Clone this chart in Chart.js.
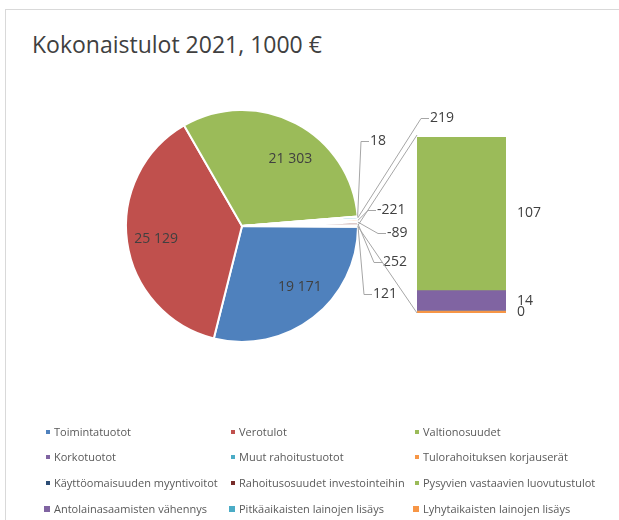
<!DOCTYPE html>
<html>
<head>
<meta charset="utf-8">
<title>Kokonaistulot 2021</title>
<script src="https://cdn.jsdelivr.net/npm/chart.js@4.4.1/dist/chart.umd.min.js"></script>
<style>
  html, body { margin: 0; padding: 0; background: #fff; }
  #wrap { position: relative; width: 619px; height: 520px; overflow: hidden; font-family: 'Open Sans', sans-serif; }
  #frame { position: absolute; left: 5px; top: 9px; width: 800px; height: 800px; border-left: 1px solid #d9d9d9; border-top: 1px solid #d9d9d9; }
  #title { position: absolute; left: 32px; top: 28px; font-size: 23px; color: #404040; white-space: nowrap; }
  canvas.layer { position: absolute; left: 0; top: 0; }
  .item { position: absolute; font-size: 11px; line-height: 14px; color: #595959; white-space: nowrap; }
  .item i { position: absolute; display: block; }
</style>
</head>
<body>
<div id="wrap">
  <div id="frame"></div>
  <div id="title">Kokonaistulot 2021, 1000 €</div>
  <canvas id="pieCanvas" class="layer" width="619" height="520"></canvas>
  <canvas id="barCanvas" class="layer" width="619" height="520"></canvas>
  <div id="legend"></div>
</div>
<script>
// Main pie: three big items + small items, the rest goes to the secondary bar
const pieLabels = ['Toimintatuotot', 'Verotulot', 'Valtionosuudet', 'Korkotuotot', 'Muut rahoitustuotot',
  'Tulorahoituksen korjauserät', 'Käyttöomaisuuden myyntivoitot', 'Rahoitusosuudet investointeihin'];
const pieValues = [19171, 25129, 21303, 18, 219, -221, -89, 252];

// Secondary (stacked bar) items
const barLabels = ['Pysyvien vastaavien luovutustulot', 'Antolainasaamisten vähennys',
  'Pitkäaikaisten lainojen lisäys', 'Lyhytaikaisten lainojen lisäys'];
const barValues = [107, 14, 0, 0];

const pieColors = ['#4f81bd', '#c0504d', '#9bbb59', '#8064a2', '#4bacc6', '#f79646', '#2c4d75', '#772c2a'];
const barColors = ['#9bbb59', '#8064a2', '#4bacc6', '#f79646'];
const otherColor = '#dbe3ef';

// nudges for the three big labels, and anchors (left x, middle y) for the small ones
const bigLabelShift = [[6, -6], [-2, 1], [9, 8]];
const smallLabelPos = [[370, 141], [430, 118], [377, 210], [387, 233], [383, 262], [373, 294]];

const otherSum = barValues.reduce((a, b) => a + b, 0);
const allPie = pieValues.concat([otherSum]);
const pieTotal = allPie.reduce((a, b) => a + Math.abs(b), 0);

function fmt(v) {
  const s = Math.abs(v).toString().replace(/\B(?=(\d{3})+(?!\d))/g, ' ');
  return (v < 0 ? '-' : '') + s;
}

const labelFont = '14px "Open Sans", sans-serif';
const labelColor = '#404040';
const lineColor = '#a6a6a6';

const pieLabelsPlugin = {
  id: 'pieLabels',
  afterDatasetsDraw(chart) {
    const ctx = chart.ctx;
    const meta = chart.getDatasetMeta(0);
    const values = chart.data.datasets[0].data;
    ctx.save();
    ctx.font = labelFont;
    ctx.fillStyle = labelColor;
    ctx.textBaseline = 'middle';
    meta.data.forEach((arc, i) => {
      const p = arc.getProps(['x', 'y', 'startAngle', 'endAngle', 'outerRadius']);
      const mid = (p.startAngle + p.endAngle) / 2;
      if (i < 3) {
        const d = p.outerRadius * 0.73;
        ctx.textAlign = 'center';
        ctx.fillText(fmt(values[i]), p.x + Math.cos(mid) * d + bigLabelShift[i][0],
          p.y + Math.sin(mid) * d + bigLabelShift[i][1]);
        return;
      }
      const [lx, ly] = smallLabelPos[i - 3];
      const sx = p.x + Math.cos(mid) * p.outerRadius;
      const sy = p.y + Math.sin(mid) * p.outerRadius;
      ctx.strokeStyle = lineColor;
      ctx.lineWidth = 1;
      ctx.beginPath();
      ctx.moveTo(sx, sy);
      ctx.lineTo(lx - 9, ly + 0.5);
      ctx.lineTo(lx - 1, ly + 0.5);
      ctx.stroke();
      ctx.textAlign = 'left';
      ctx.fillText(fmt(values[i]), lx, ly);
    });
    ctx.restore();
  }
};

const pieChart = new Chart(document.getElementById('pieCanvas'), {
  type: 'pie',
  data: {
    labels: pieLabels.concat(['Muu']),
    datasets: [{
      data: allPie,
      backgroundColor: pieColors.concat([otherColor]),
      borderColor: '#ffffff',
      borderWidth: 2
    }]
  },
  options: {
    responsive: false,
    animation: false,
    radius: 116,
    // keep the aggregated slice centred on 3 o'clock
    rotation: 90 + (otherSum / pieTotal) * 180,
    layout: { padding: { left: 126, right: 261, top: 110, bottom: 178 } },
    plugins: { legend: { display: false }, tooltip: { enabled: false } }
  },
  plugins: [pieLabelsPlugin]
});

const barLabelsPlugin = {
  id: 'barLabels',
  afterDatasetsDraw(chart) {
    const ctx = chart.ctx;
    const drawn = [];
    ctx.save();
    ctx.font = labelFont;
    ctx.fillStyle = labelColor;
    ctx.textBaseline = 'middle';
    ctx.textAlign = 'left';
    chart.data.datasets.forEach((ds, i) => {
      const bar = chart.getDatasetMeta(i).data[0];
      const v = ds.data[0];
      const yMid = (bar.y + bar.base) / 2;
      const text = fmt(v);
      // equal zero items sit on the same spot, print once
      if (drawn.some(d => d.text === text && Math.abs(d.y - yMid) < 4)) return;
      drawn.push({ text: text, y: yMid });
      ctx.fillText(text, bar.x + bar.width / 2 + 11, yMid);
    });
    ctx.restore();
  }
};

// lines from the aggregated pie slice to the secondary bar
const connectorPlugin = {
  id: 'connectors',
  afterDatasetsDraw(chart) {
    const arc = pieChart.getDatasetMeta(0).data[allPie.length - 1];
    const p = arc.getProps(['x', 'y', 'startAngle', 'endAngle', 'outerRadius']);
    const metas = chart.getSortedVisibleDatasetMetas();
    const topBar = metas[metas.length - 1].data[0];
    const left = topBar.x - topBar.width / 2;
    const topY = topBar.y;
    const baseY = chart.scales.y.getPixelForValue(0);
    const ctx = chart.ctx;
    ctx.save();
    ctx.strokeStyle = lineColor;
    ctx.lineWidth = 1;
    ctx.beginPath();
    ctx.moveTo(p.x + Math.cos(p.startAngle) * p.outerRadius, p.y + Math.sin(p.startAngle) * p.outerRadius);
    ctx.lineTo(left, topY);
    ctx.moveTo(p.x + Math.cos(p.endAngle) * p.outerRadius, p.y + Math.sin(p.endAngle) * p.outerRadius);
    ctx.lineTo(left, baseY);
    ctx.stroke();
    ctx.restore();
  }
};

// stack from the bottom: last item first
const barDatasets = barLabels.map((label, i) => ({
  label: label,
  data: [barValues[i]],
  backgroundColor: barColors[i],
  borderWidth: 0,
  minBarLength: barLabels.length - 1 === i ? 2 : undefined
})).reverse();

const barChart = new Chart(document.getElementById('barCanvas'), {
  type: 'bar',
  data: { labels: [''], datasets: barDatasets },
  options: {
    responsive: false,
    animation: false,
    barPercentage: 1,
    categoryPercentage: 1,
    layout: { padding: { left: 417, right: 113, top: 137, bottom: 207 } },
    scales: {
      x: { display: false, stacked: true },
      y: { display: false, stacked: true, min: 0, max: otherSum }
    },
    plugins: { legend: { display: false }, tooltip: { enabled: false } }
  },
  plugins: [barLabelsPlugin, connectorPlugin]
});

// legend, 3 columns (x = where the text starts)
const legendCols = [54, 239, 423];
const legendRows = [432, 457, 483, 509];
const legendNames = pieLabels.concat(barLabels);
const legendColors = pieColors.concat(barColors);
const legendEl = document.getElementById('legend');
legendNames.forEach((name, i) => {
  const row = Math.floor(i / 3);
  const size = row === 3 ? 6 : 4;
  const el = document.createElement('div');
  el.className = 'item';
  el.style.left = legendCols[i % 3] + 'px';
  el.style.top = (legendRows[row] - 7) + 'px';
  el.innerHTML = `<i style="left:${-4 - size}px;top:${7 - size / 2}px;width:${size}px;height:${size}px;background:${legendColors[i]}"></i>${name}`;
  legendEl.appendChild(el);
});
</script>
</body>
</html>
